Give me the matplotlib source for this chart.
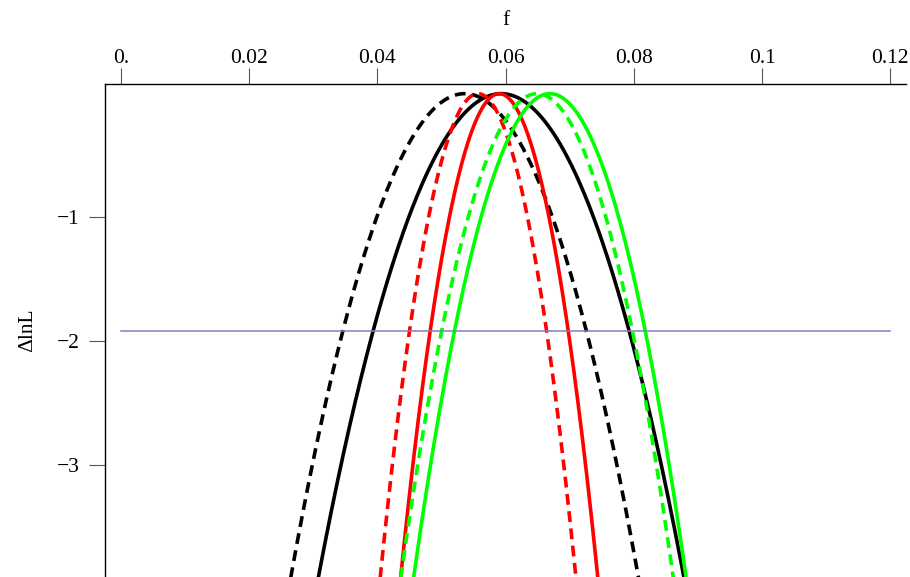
import numpy as np
import matplotlib
matplotlib.use("Agg")
import matplotlib.pyplot as plt

# Peak position (f at max) and curvature width (sigma) of each likelihood curve
curve_names = ["black dashed", "black solid", "red dashed", "red solid", "green dashed", "green solid"]
peak_f = [0.0536, 0.0593, 0.0557, 0.0590, 0.0649, 0.0669]
sigma_f = [0.0097, 0.0102, 0.00546, 0.0055, 0.0076, 0.0076]
colors = ["#000000", "#000000", "#ff0000", "#ff0000", "#00ff00", "#00ff00"]
styles = ["dashed", "solid", "dashed", "solid", "dashed", "solid"]

threshold = -1.92
x_ticks = [0.0, 0.02, 0.04, 0.06, 0.08, 0.1, 0.12]
x_tick_labels = ["0.", "0.02", "0.04", "0.06", "0.08", "0.1", "0.12"]
y_ticks = [-1, -2, -3]
y_tick_labels = ["\u22121", "\u22122", "\u22123"]

plt.rcParams['font.family'] = ['Liberation Serif', 'DejaVu Serif']

fig = plt.figure(figsize=(9.1, 5.77), dpi=100)
ax = fig.add_axes([105/910, 0.0, (906-105)/910, 1 - 84/577])

f = np.linspace(0.0, 0.12, 1200)
for f0, s, c, ls in zip(peak_f, sigma_f, colors, styles):
    y = -(f - f0) ** 2 / (2 * s ** 2)
    if ls == "dashed":
        ax.plot(f, y, color=c, lw=2.6, linestyle=(0, (3.0, 1.8)), solid_capstyle='butt')
    else:
        ax.plot(f, y, color=c, lw=2.6)

ax.plot([0.0, 0.12], [threshold, threshold], color=(0.5, 0.5, 0.75), lw=1.1)

ax.set_xlim(-0.0025, 0.12246)
ax.set_ylim(-3.905, 0.078)

for side in ["bottom", "right"]:
    ax.spines[side].set_visible(False)
for side in ["top", "left"]:
    ax.spines[side].set_linewidth(1.0)
    ax.spines[side].set_color("black")

ax.xaxis.set_ticks_position("top")
ax.set_xticks(x_ticks)
ax.set_xticklabels(x_tick_labels)
ax.set_yticks(y_ticks)
ax.set_yticklabels(y_tick_labels)
ax.tick_params(axis="both", direction="out", length=11.5, width=0.8,
               color="#555555", labelsize=15.5)
ax.tick_params(axis="x", pad=0)
ax.tick_params(axis="y", pad=7)

ax.xaxis.set_label_position("top")
ax.set_xlabel("f", fontsize=15.5, labelpad=17)
ax.set_ylabel("\u0394lnL", fontsize=15.5, labelpad=14)

fig.savefig("out.png", dpi=100)
